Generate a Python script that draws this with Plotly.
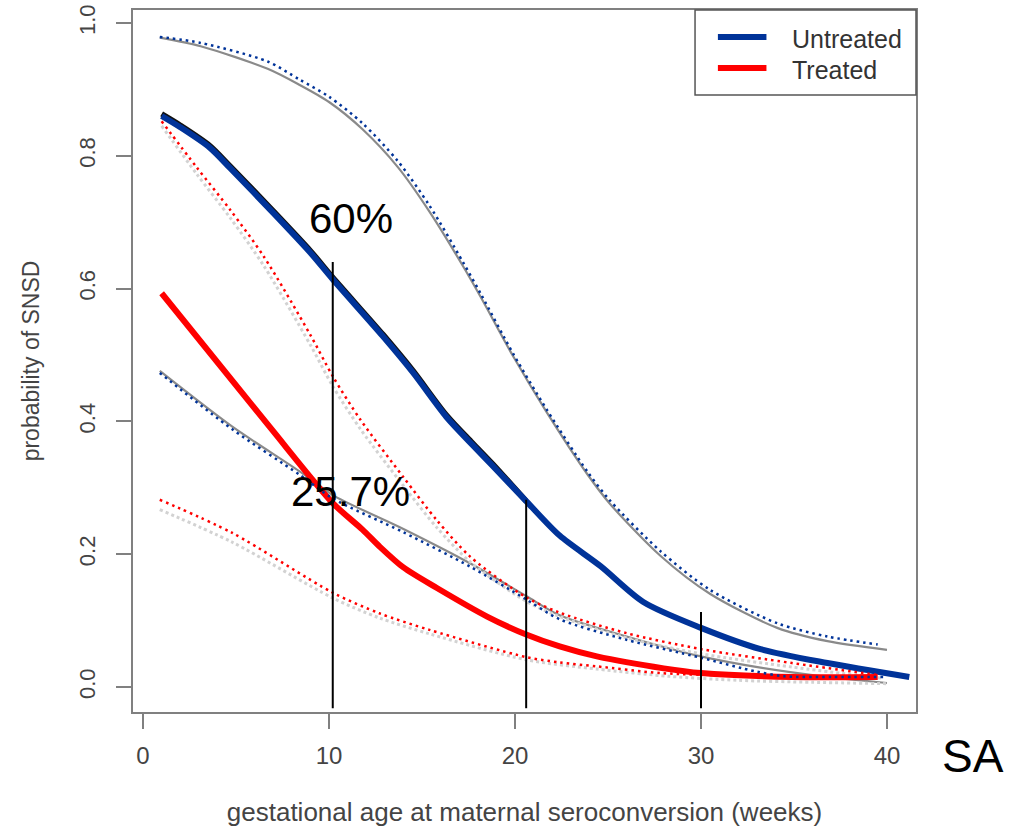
import plotly.graph_objects as go

# ---------------- data ----------------
# Untreated: fitted probability (thick blue) and its 95% band (blue dotted)
untr_x = [1.0, 2.0, 3.6, 4.7, 7.0, 9.0, 10.2, 12.9, 14.5, 16.3, 17.7, 18.8, 20.6, 22.4, 24.6, 26.9, 30.0, 33.2, 36.8, 41.2]
untr_y = [0.860, 0.843, 0.812, 0.781, 0.714, 0.654, 0.614, 0.528, 0.474, 0.407, 0.365, 0.333, 0.280, 0.228, 0.182, 0.128, 0.089, 0.057, 0.036, 0.015]
untr_shadow_x = [1.0, 2.0, 3.6, 4.7, 7.0, 9.0, 10.2, 12.9, 14.5, 16.3, 17.7, 18.8, 20.6]
untr_shadow_y = [0.863, 0.846, 0.815, 0.784, 0.717, 0.657, 0.617, 0.531, 0.477, 0.410, 0.368, 0.336, 0.280]

untr_hi_x = [0.9, 3.1, 6.7, 8.4, 10.0, 11.8, 13.7, 15.4, 17.2, 18.2, 19.9, 21.7, 23.9, 25.1, 27.8, 30.5, 34.1, 36.8, 39.5]
untr_hi_y = [0.979, 0.970, 0.942, 0.915, 0.889, 0.849, 0.792, 0.725, 0.640, 0.590, 0.502, 0.418, 0.324, 0.281, 0.205, 0.146, 0.096, 0.076, 0.064]
untr_hi_gray_x = [0.9, 3.1, 6.7, 8.4, 10.0, 11.8, 13.7, 15.4, 17.2, 18.2, 19.9, 21.7, 23.9, 25.1, 27.8, 30.5, 34.1, 36.8, 40.0]
untr_hi_gray_y = [0.978, 0.965, 0.931, 0.907, 0.881, 0.840, 0.783, 0.716, 0.634, 0.585, 0.498, 0.414, 0.320, 0.276, 0.198, 0.140, 0.089, 0.069, 0.056]

untr_lo_x = [0.9, 4.8, 8.4, 10.2, 14.0, 17.6, 20.6, 22.4, 26.0, 30.0, 33.0, 34.5, 37.0, 39.8]
untr_lo_y = [0.473, 0.388, 0.320, 0.284, 0.233, 0.181, 0.132, 0.102, 0.071, 0.044, 0.023, 0.016, 0.015, 0.015]
untr_lo_gray_x = [0.9, 4.8, 8.4, 10.2, 14.0, 17.6, 20.6, 22.4, 26.0, 30.0, 33.2, 36.8, 40.0]
untr_lo_gray_y = [0.476, 0.392, 0.325, 0.289, 0.238, 0.186, 0.137, 0.108, 0.076, 0.046, 0.029, 0.015, 0.006]

# Treated: fitted probability (thick red) and its 95% band (red dotted)
trt_x = [1.0, 6.8, 10.2, 11.8, 12.7, 14.0, 15.8, 18.5, 20.6, 22.4, 24.4, 28.0, 30.0, 34.9, 39.5]
trt_y = [0.593, 0.392, 0.277, 0.237, 0.212, 0.180, 0.149, 0.106, 0.079, 0.061, 0.046, 0.028, 0.021, 0.015, 0.015]

trt_hi_x = [1.0, 2.9, 4.7, 6.5, 9.0, 10.2, 11.7, 14.0, 15.8, 17.6, 20.6, 22.4, 26.0, 30.0, 34.9, 39.5]
trt_hi_y = [0.852, 0.782, 0.718, 0.648, 0.530, 0.468, 0.402, 0.316, 0.251, 0.196, 0.135, 0.112, 0.081, 0.057, 0.036, 0.018]
trt_hi_gray_x = [1.0, 2.9, 4.7, 6.5, 9.0, 10.2, 11.7, 14.0, 15.8, 17.6, 20.6, 22.4, 26.0, 30.0, 34.9, 39.8]
trt_hi_gray_y = [0.845, 0.772, 0.706, 0.634, 0.515, 0.453, 0.388, 0.303, 0.240, 0.188, 0.129, 0.106, 0.074, 0.050, 0.030, 0.013]

trt_lo_x = [0.9, 4.8, 10.2, 12.7, 15.4, 20.6, 22.4, 24.4, 27.8, 32.0, 36.0, 39.5]
trt_lo_y = [0.282, 0.232, 0.142, 0.111, 0.086, 0.045, 0.037, 0.031, 0.021, 0.017, 0.015, 0.014]
trt_lo_gray_x = [0.9, 4.8, 10.2, 12.7, 15.4, 20.6, 24.4, 28.3, 32.0, 36.0, 40.0]
trt_lo_gray_y = [0.267, 0.218, 0.134, 0.104, 0.080, 0.041, 0.027, 0.016, 0.010, 0.007, 0.005]

# Reference markers (vertical lines) at selected gestational ages
marker_weeks = [10.2, 20.6, 30.0]
marker_tops = [0.64, 0.282, 0.113]
marker_base = -0.032

x_ticks = [0, 10, 20, 30, 40]
y_ticks = [0.0, 0.2, 0.4, 0.6, 0.8, 1.0]
y_ticklabels = ["0.0", "0.2", "0.4", "0.6", "0.8", "1.0"]

legend_labels = ["Untreated", "Treated"]

# ---------------- styling ----------------
FONT = "Liberation Sans, Arial, Helvetica, sans-serif"
BLUE = "#003399"
RED = "#ff0000"
GRAY = "#8a8a8a"
LGRAY = "#d2d2d2"
AXC = "#808080"
TXT = "#444444"
DOT = "2.5px,4px"

fig = go.Figure()

def add(x, y, color, width, dash=None, name=None):
    fig.add_trace(go.Scatter(x=x, y=y, mode="lines", name=name, showlegend=False,
                             line=dict(color=color, width=width, dash=dash, shape="spline", smoothing=0.8),
                             hoverinfo="skip"))

# gray underlying curves
add(untr_hi_gray_x, untr_hi_gray_y, GRAY, 2.2)
add(untr_lo_gray_x, untr_lo_gray_y, GRAY, 2.2)
add(trt_hi_gray_x, trt_hi_gray_y, LGRAY, 3, "3px,3px")
add(trt_lo_gray_x, trt_lo_gray_y, LGRAY, 3, "3px,3px")
# main curves
add(untr_shadow_x, untr_shadow_y, "#111111", 5.5)
add(untr_x, untr_y, BLUE, 6, name="Untreated")
add(trt_x, trt_y, RED, 6, name="Treated")
# dotted confidence bands
add(trt_hi_x, trt_hi_y, RED, 2.5, DOT)
add(trt_lo_x, trt_lo_y, RED, 2.5, DOT)
add(untr_hi_x, untr_hi_y, BLUE, 2.5, DOT)
add(untr_lo_x, untr_lo_y, BLUE, 2.5, DOT)

# vertical marker lines
vx, vy = [], []
for wk, top in zip(marker_weeks, marker_tops):
    vx += [wk, wk, None]
    vy += [marker_base, top, None]
fig.add_trace(go.Scatter(x=vx, y=vy, mode="lines", showlegend=False, hoverinfo="skip",
                         line=dict(color="black", width=2)))

# text annotations
fig.add_annotation(x=11.18, y=0.706, xref="x", yref="y", text="60%", showarrow=False,
                   font=dict(family=FONT, size=42, color="black"))
fig.add_annotation(x=11.13, y=0.295, xref="x", yref="y", text="25.7%", showarrow=False,
                   font=dict(family=FONT, size=42, color="black"))
fig.add_annotation(x=1.115, y=-0.102, xref="paper", yref="paper", text="SA", showarrow=False,
                   font=dict(family=FONT, size=46, color="black"))

# manual legend (box attached to top-right corner)
fig.add_shape(type="rect", xref="paper", yref="paper", x0=0.7178, x1=1.0, y0=0.879, y1=1.0,
              line=dict(color="#555555", width=1.5), fillcolor="white", layer="above")
for lab, col, yy in zip(legend_labels, [BLUE, RED], [0.9615, 0.9174]):
    fig.add_shape(type="line", xref="paper", yref="paper", x0=0.747, x1=0.809, y0=yy, y1=yy,
                  line=dict(color=col, width=6), layer="above")
    fig.add_annotation(x=0.839, y=yy - 0.003, xref="paper", yref="paper", text=lab, showarrow=False,
                       xanchor="left", yanchor="middle",
                       font=dict(family=FONT, size=25, color="#333333"))

fig.update_layout(
    width=1010, height=829,
    margin=dict(l=133, r=94, t=10, b=117, autoexpand=False),
    plot_bgcolor="white", paper_bgcolor="white",
    font=dict(family=FONT, color=TXT),
    showlegend=False,
    xaxis=dict(range=[-0.54, 41.56], tickvals=x_ticks, ticks="outside", ticklen=15, tickwidth=1.5,
               tickcolor=AXC, showline=True, mirror=True, linecolor=AXC, linewidth=1.5,
               showgrid=False, zeroline=False, tickfont=dict(family=FONT, size=24, color=TXT),
               ticklabelstandoff=6, automargin=False, ticklabeloverflow="allow",
               title=dict(text="gestational age at maternal seroconversion (weeks)",
                          font=dict(family=FONT, size=26, color=TXT), standoff=35)),
    yaxis=dict(range=[-0.0377, 1.0196], tickvals=y_ticks, ticktext=y_ticklabels, tickangle=-90,
               ticks="outside", ticklen=15, tickwidth=1.5, tickcolor=AXC, showline=True, mirror=True,
               linecolor=AXC, linewidth=1.5, showgrid=False, zeroline=False, automargin=False,
               tickfont=dict(family=FONT, size=22, color=TXT), ticklabelstandoff=12,
               ticklabeloverflow="allow",
               title=dict(text="probability of SNSD", font=dict(family=FONT, size=23, color=TXT),
                          standoff=29)),
)

# remove the default 8px page margin so the figure sits at the top-left corner of the window
fig.write_html("out.html", config={"displayModeBar": False},
               post_script="document.body.style.margin='0px';")
